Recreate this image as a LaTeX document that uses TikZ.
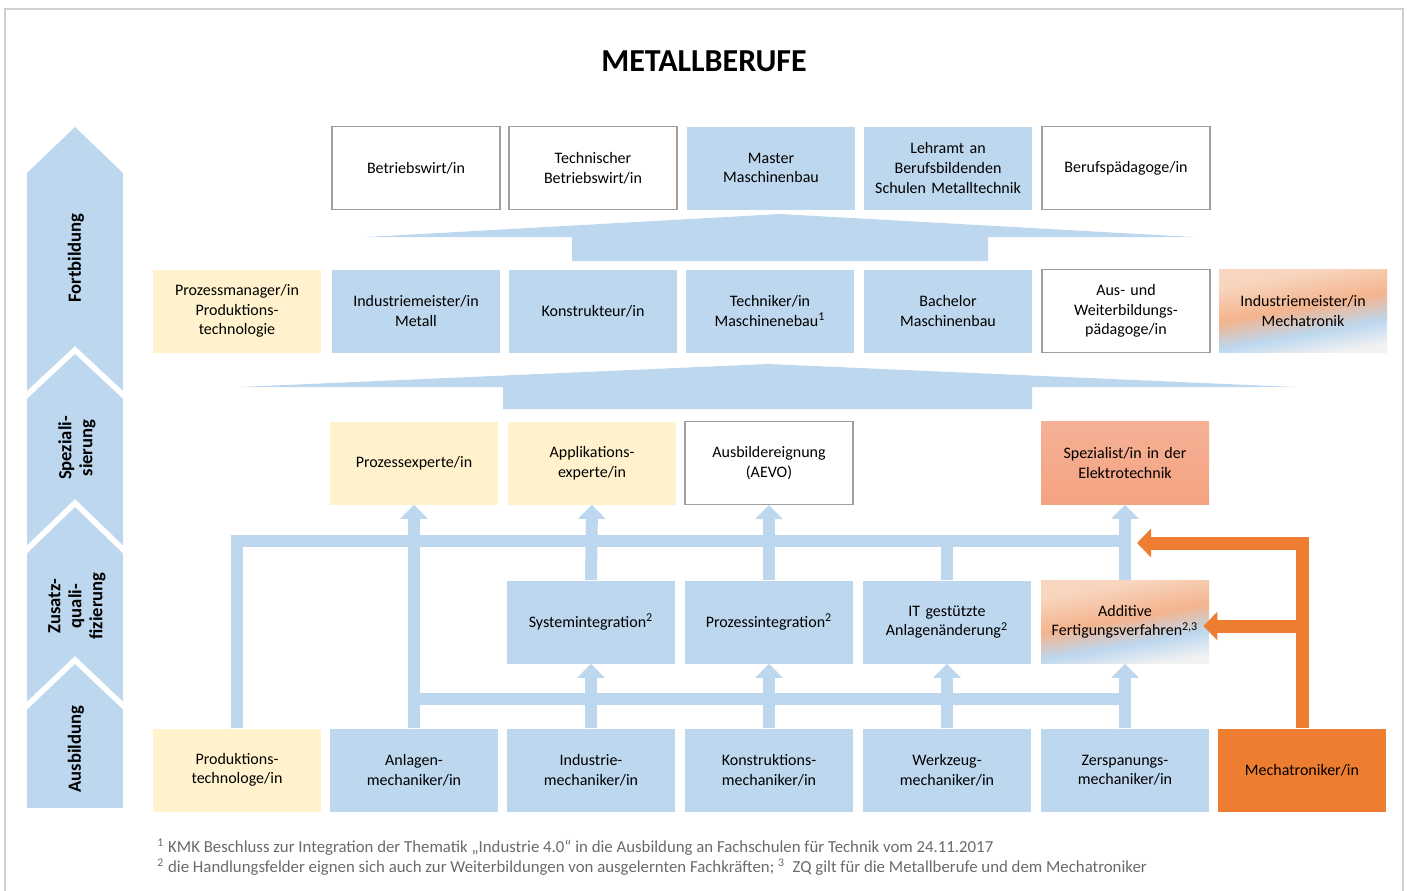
\documentclass[tikz,border=0pt]{standalone}
\usepackage{fontspec}
\setmainfont{Carlito}
\usepackage{xcolor}
\usetikzlibrary{arrows.meta}
\usetikzlibrary{calc}

\definecolor{hellblau}{HTML}{BDD7EE}
\definecolor{hellgelb}{HTML}{FFF2CC}
\definecolor{orangeton}{HTML}{ED7D31}
\definecolor{lachs}{HTML}{F4B48E}
\definecolor{lachshell}{HTML}{F8D5BE}
\definecolor{spezoben}{HTML}{F6B196}
\definecolor{spezunten}{HTML}{F4A381}
\definecolor{rahmengrau}{HTML}{D0D0D0}
\definecolor{fussgrau}{HTML}{6A6A6A}

\pgfdeclarehorizontalshading{mischung}{100bp}{color(0bp)=(lachshell); color(30bp)=(lachshell); color(48bp)=(lachs); color(62bp)=(hellblau); color(75bp)=(white!95!black); color(100bp)=(white!95!black)}

\tikzset{
  beruf/.style={minimum width=84pt, minimum height=41.5pt, inner sep=1pt, text width=82pt, align=center, font=\fontsize{8}{9.8}\selectfont},
  blau/.style={beruf, fill=hellblau},
  gelb/.style={beruf, fill=hellgelb},
  weiss/.style={beruf, draw=gray!75, line width=0.6pt, fill=white},
  misch/.style={beruf, shade, shading=mischung, shading angle=-80},
  spezfarbe/.style={beruf, top color=spezoben, bottom color=spezunten},
  mechfarbe/.style={beruf, fill=orangeton},
  seite/.style={rotate=90, align=center, font=\fontsize{9.3}{10.5}\selectfont\bfseries},
  leitung/.style={draw=hellblau, line width=6pt},
  pfeil/.style={leitung, -{Triangle[width=13.5pt,length=7pt]}},
  orangeleitung/.style={draw=orangeton, line width=6.5pt},
  orangepfeil/.style={orangeleitung, -{Triangle[width=14pt,length=7pt]}},
  fuss/.style={anchor=west, inner sep=0pt, text=fussgrau, font=\fontsize{8.4}{9}\selectfont}
}

\begin{document}
\begin{tikzpicture}[x=0.5pt, y=-0.5pt]
      \useasboundingbox (0,0) rectangle (1407,890);
      \draw[rahmengrau, line width=1pt] (5,900) -- (5,9) -- (1403,9) -- (1403,900);

      \node[font=\fontsize{16}{18}\selectfont\bfseries] (titel) at (704,61) {METALLBERUFE};

      \begin{scope}
        \clip (27,173) -- (75,127) -- (123,173) -- (123,808) -- (27,808) -- cycle;
        \fill[hellblau] (27,120) rectangle (123,808);
        \draw[white, line width=2.8pt] (15,406) -- (75,350) -- (135,406);
        \draw[white, line width=2.8pt] (15,561) -- (75,503) -- (135,561);
        \draw[white, line width=2.8pt] (15,717) -- (75,660) -- (135,717);
      \end{scope}
      \node[seite] (fortbildung) at (76,258) {Fortbildung};
      \node[seite] (spezialisierung) at (77,448) {Speziali-\\sierung};
      \node[seite] (zusatz) at (77,606) {Zusatz-\\quali-\\fizierung};
      \node[seite] (ausbildung) at (76,749) {Ausbildung};

      \node[weiss] (betriebswirt) at (416,168) {Betriebswirt/in};
      \node[weiss] (techbw) at (593,168) {Technischer\\Betriebswirt/in};
      \node[blau] (master) at (771,168) {Master\\Maschinenbau};
      \node[blau] (lehramt) at (948,168) {Lehramt an\\Berufsbildenden\\Schulen Metalltechnik};
      \node[weiss] (berufspaed) at (1126,168) {Berufspädagoge/in};

      \fill[hellblau] (780,214) -- (1193,237) -- (988,237) -- (988,261) -- (572,261) -- (572,237) -- (367,237) -- cycle;

      \node[gelb] (prozmanager) at (237,311) {Prozessmanager/in\\Produktions-\\technologie};
      \node[blau] (imetall) at (416,311) {Industriemeister/in\\Metall};
      \node[blau] (konstrukteur) at (593,311) {Konstrukteur/in};
      \node[blau] (techniker) at (770,311) {Techniker/in\\Maschinenebau\textsuperscript{1}};
      \node[blau] (bachelor) at (948,311) {Bachelor\\Maschinenbau};
      \node[weiss] (awpaed) at (1126,311) {Aus- und\\Weiterbildungs-\\pädagoge/in};
      \node[misch] (imecha) at (1303,311) {Industriemeister/in\\Mechatronik};

      \fill[hellblau] (768,364) -- (1295,387) -- (1032,387) -- (1032,409) -- (503,409) -- (503,387) -- (240,387) -- cycle;

      \node[gelb] (prozexp) at (414,463) {Prozessexperte/in};
      \node[gelb] (applexp) at (592,463) {Applikations-\\experte/in};
      \node[weiss] (aevo) at (769,463) {Ausbildereignung\\(AEVO)};
      \node[spezfarbe] (spezet) at (1125,463) {Spezialist/in in der\\Elektrotechnik};

      \node[blau] (sysint) at (591,622) {Systemintegration\textsuperscript{2}};
      \node[blau] (prozint) at (769,622) {Prozessintegration\textsuperscript{2}};
      \node[blau] (itanl) at (947,622) {IT gestützte\\Anlagenänderung\textsuperscript{2}};
      \node[misch] (additiv) at (1125,622) {Additive\\Fertigungsverfahren\textsuperscript{2,3}};

      \node[gelb] (prodtech) at (237,770) {Produktions-\\technologe/in};
      \node[blau] (anlagen) at (414,770) {Anlagen-\\mechaniker/in};
      \node[blau] (industrie) at (591,770) {Industrie-\\mechaniker/in};
      \node[blau] (konstruktion) at (769,770) {Konstruktions-\\mechaniker/in};
      \node[blau] (werkzeug) at (947,770) {Werkzeug-\\mechaniker/in};
      \node[blau] (zerspanung) at (1125,770) {Zerspanungs-\\mechaniker/in};
      \node[mechfarbe] (mechatroniker) at (1302,770) {Mechatroniker/in};

      \coordinate (busoben) at (0,541);
      \coordinate (busunten) at (0,699);
      \coordinate (einmuendung) at (1137,543);

      \draw[leitung] (prodtech.north) |- (additiv.north |- busoben);
      \draw[leitung, line cap=rect] (anlagen.north |- busunten) -- (zerspanung.north |- busunten);
      \draw[leitung] (itanl.north) -- (itanl.north |- busoben);

      \draw[pfeil] (anlagen.north) -- (prozexp.south);
      \draw[pfeil] (industrie.north) -- (sysint.south);
      \draw[pfeil] (konstruktion.north) -- (prozint.south);
      \draw[pfeil] (werkzeug.north) -- (itanl.south);
      \draw[pfeil] (zerspanung.north) -- (additiv.south);
      \draw[pfeil] (sysint.north) -- (applexp.south);
      \draw[pfeil] (prozint.north) -- (aevo.south);
      \draw[pfeil] (additiv.north) -- (spezet.south);

      \draw[orangepfeil] (mechatroniker.north) |- (einmuendung);
      \draw[orangepfeil, shorten >=-3pt] ($(mechatroniker.north |- additiv.east)+(0,4)$) -- ($(additiv.east)+(0,4)$);

      \node[fuss] (fussnote1) at (157,847) {\textsuperscript{1} KMK Beschluss zur Integration der Thematik „Industrie 4.0“ in die Ausbildung an Fachschulen für Technik vom 24.11.2017};
      \node[fuss] (fussnote2) at (157,867) {\textsuperscript{2} die Handlungsfelder eignen sich auch zur Weiterbildungen von ausgelernten Fachkräften; \textsuperscript{3}\ \ ZQ gilt für die Metallberufe und dem Mechatroniker};
    \end{tikzpicture}
\end{document}
